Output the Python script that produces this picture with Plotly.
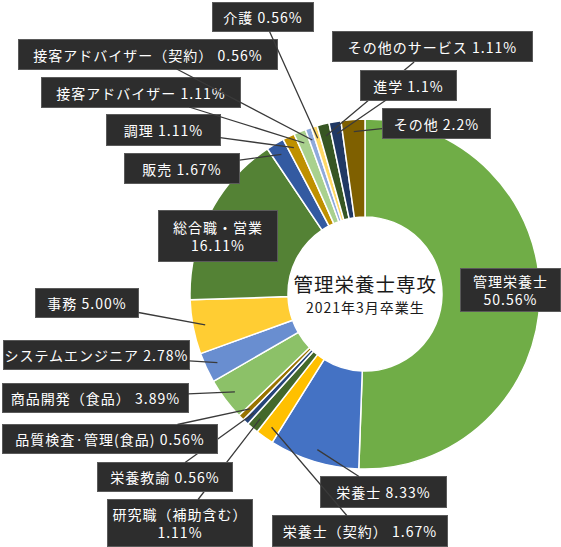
import math
import plotly.graph_objects as go

# ---- data ----
categories = [
    "管理栄養士", "栄養士", "栄養士（契約）", "研究職（補助含む）", "栄養教諭",
    "品質検査·管理(食品)", "商品開発（食品）", "システムエンジニア", "事務",
    "総合職・営業", "販売", "調理", "接客アドバイザー", "接客アドバイザー（契約）",
    "介護", "その他のサービス", "進学", "その他",
]
shares = [50.56, 8.33, 1.67, 1.11, 0.56, 0.56, 3.89, 2.78, 5.00,
          16.11, 1.67, 1.11, 1.11, 0.56, 0.56, 1.11, 1.1, 2.2]
share_text = ["50.56%", "8.33%", "1.67%", "1.11%", "0.56%", "0.56%", "3.89%", "2.78%", "5.00%",
              "16.11%", "1.67%", "1.11%", "1.11%", "0.56%", "0.56%", "1.11%", "1.1%", "2.2%"]
label_break = [True, False, False, True, False, False, False, False, False,
               True, False, False, False, False, False, False, False, False]
title_line1 = "管理栄養士専攻"
title_line2 = "2021年3月卒業生"

# ---- style / layout ----
colors = ["#70AD47", "#4472C4", "#FFC000", "#43682B", "#264478", "#997300",
          "#8CC168", "#698ED0", "#FFCD33", "#548235", "#335AA1", "#BF9000",
          "#A9D18E", "#8FAADC", "#FFD966", "#375623", "#203864", "#7F6000"]
W, H = 561, 547
CX, CY, R = 365, 294, 175
HOLE = 0.44
# label box centre (px), box width, box height, leader line?
label_boxes = [
    (510, 290, 101, 44, False),
    (383, 492, 127, 32, True),
    (360, 531, 176, 32, True),
    (180, 523, 146, 48, True),
    (165, 477, 136, 30, True),
    (110, 439, 216, 30, True),
    (95, 398, 187, 30, True),
    (96, 355, 187, 30, True),
    (87, 303, 104, 30, True),
    (218, 236, 120, 52, False),
    (182, 168, 116, 31, True),
    (163, 130, 115, 32, True),
    (141, 92, 200, 31, True),
    (148, 54, 260, 31, True),
    (263, 17, 102, 30, True),
    (432, 47, 201, 31, True),
    (408, 85, 97, 31, True),
    (436, 123, 109, 31, True),
]
FONT = "Noto Sans CJK JP, Noto Sans, sans-serif"

fig = go.Figure(go.Pie(
    labels=categories, values=shares, sort=False, direction="clockwise", rotation=0,
    hole=HOLE, textinfo="none", hoverinfo="label+percent",
    marker=dict(colors=colors, line=dict(color="white", width=1.5)),
    domain=dict(x=[(CX - R) / W, (CX + R) / W], y=[1 - (CY + R) / H, 1 - (CY - R) / H]),
    showlegend=False,
))

annotations = []
total = sum(shares)
cum = 0.0
for cat, v, t, brk, box in zip(categories, shares, share_text, label_break, label_boxes):
    mid = (cum + v / 2) / total * 2 * math.pi
    cum += v
    bx, by, bw, bh, arrow = box
    text = f"{cat}<br>{t}" if brk else f"{cat} {t}"
    common = dict(text=text, xref="paper", yref="paper",
                  font=dict(family=FONT, size=14, color="white"),
                  bgcolor="#2d2d2d", bordercolor="#5a5a5a", borderwidth=1, borderpad=0,
                  width=bw - 2, height=bh - 2, align="center", valign="middle")
    if arrow:
        ra = R * 0.93
        axp = CX + ra * math.sin(mid)
        ayp = CY - ra * math.cos(mid)
        annotations.append(dict(
            x=axp / W, y=1 - ayp / H, ax=bx - axp, ay=by - ayp,
            showarrow=True, arrowhead=0, arrowwidth=1.3, arrowcolor="#3a3a3a",
            standoff=0, startstandoff=0, **common))
    else:
        annotations.append(dict(x=bx / W, y=1 - by / H, xanchor="center", yanchor="middle",
                                showarrow=False, **common))

annotations.append(dict(text=title_line1, x=CX / W, y=1 - 283 / H, xref="paper", yref="paper",
                        showarrow=False, font=dict(family=FONT, size=19.5, color="#1a1a1a"),
                        xanchor="center", yanchor="middle"))
annotations.append(dict(text=title_line2, x=CX / W, y=1 - 307 / H, xref="paper", yref="paper",
                        showarrow=False, font=dict(family=FONT, size=14, color="#1a1a1a"),
                        xanchor="center", yanchor="middle"))

fig.update_layout(width=W, height=H, margin=dict(l=0, r=0, t=0, b=0),
                  paper_bgcolor="white", plot_bgcolor="white", annotations=annotations)

post = """
document.body.style.margin = '0';
var gd = document.getElementById('{plot_id}');
function spacing() {
  gd.querySelectorAll('.annotation-text').forEach(function (e) { e.style.letterSpacing = '1px'; });
}
spacing();
if (gd.on) { gd.on('plotly_afterplot', spacing); }
setTimeout(spacing, 30);
"""
fig.write_html("out.html", post_script=post, config={"displayModeBar": False})
